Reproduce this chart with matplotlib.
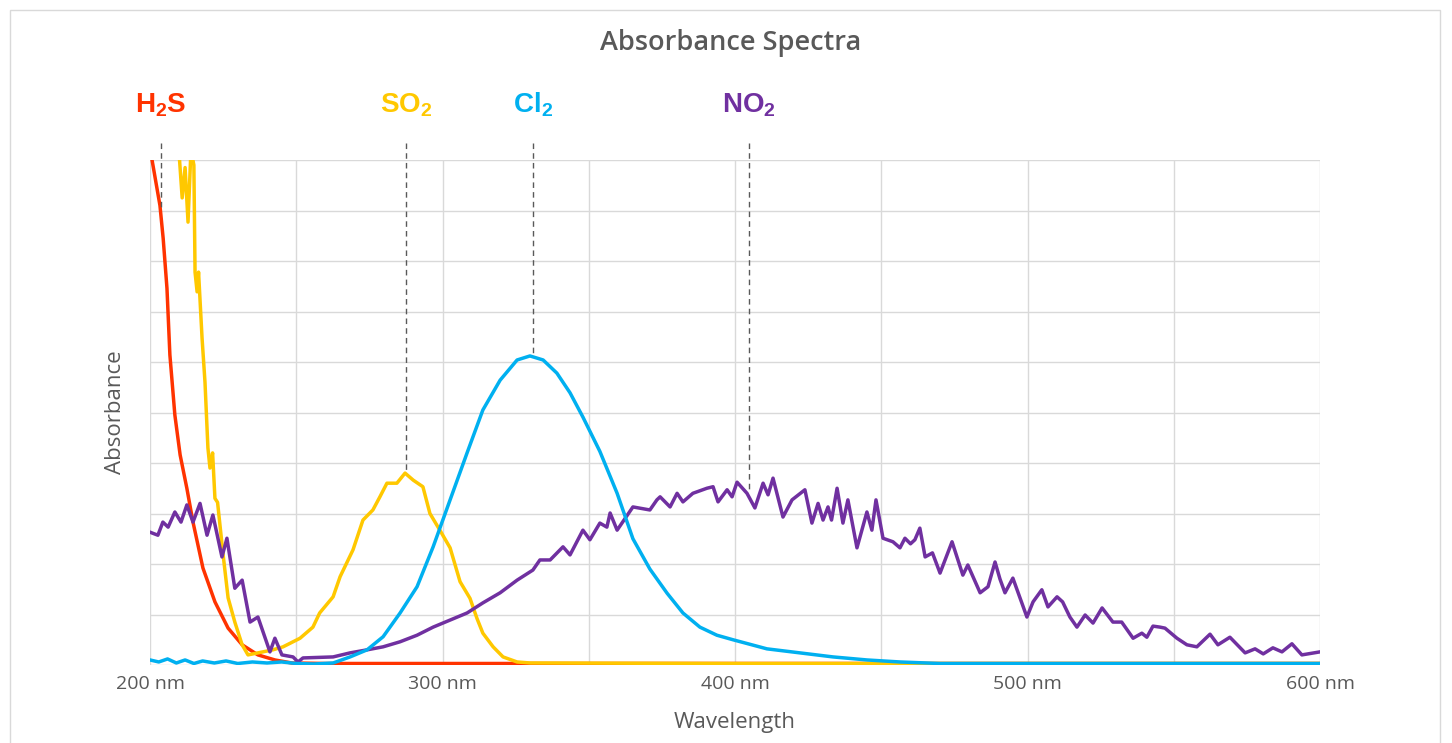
import matplotlib
matplotlib.use("Agg")
import matplotlib.pyplot as plt
from matplotlib.patches import Rectangle

# wavelength (nm) / absorbance, 0..1 scale
h2s_nm = [200, 200.7, 203.4, 204.5, 205.8, 206.8, 208.5, 210.3, 212.6, 214.7, 218.1,
          222.2, 226.7, 231.5, 236.9, 242.7, 248.5, 260, 400, 600]
h2s_abs = [1.08, 1.0, 0.91, 0.845, 0.746, 0.614, 0.495, 0.416, 0.35, 0.283, 0.192,
           0.125, 0.073, 0.04, 0.02, 0.01, 0.004, 0.003, 0.003, 0.003]

so2_nm = [209.5, 211, 212, 213, 214, 215, 215.4, 216.1, 216.6, 217.8, 218.8, 219.8, 220.5,
          221.4, 222.2, 223.1, 225, 226.7, 229, 231.5, 233.5, 242, 245.5, 251.3, 255.7,
          258, 262.6, 265, 269.4, 272.8, 276.2, 278.6, 281, 284.4, 287.2, 290, 293.3,
          295.7, 299.1, 302.6, 306, 309.4, 311.8, 313.8, 317.3, 320.7, 325.5, 330, 400, 600]
so2_abs = [1.05, 0.925, 0.985, 0.877, 1.02, 0.99, 0.778, 0.739, 0.778, 0.647, 0.56, 0.43, 0.39,
           0.42, 0.33, 0.322, 0.218, 0.133, 0.085, 0.04, 0.02, 0.03, 0.036, 0.053, 0.075,
           0.103, 0.135, 0.175, 0.228, 0.287, 0.307, 0.333, 0.36, 0.36, 0.38, 0.366, 0.353,
           0.3, 0.267, 0.232, 0.165, 0.132, 0.092, 0.063, 0.036, 0.016, 0.006, 0.004, 0.003, 0.003]

cl2_nm = [200, 203, 206, 209, 212, 215, 218, 222, 226, 230, 235, 240, 245, 250, 256,
          262.6, 268.4, 274.2, 279.7, 285.5, 291.3, 296.8, 302.6, 308.4, 313.8, 319.7,
          325.5, 329.9, 334.4, 339.1, 343.6, 348, 353.8, 359.7, 365.1, 370.9, 376.8,
          382.2, 388, 393.8, 399.3, 410.9, 422.2, 433.5, 445.1, 456.4, 470, 600]
cl2_abs = [0.01, 0.006, 0.012, 0.004, 0.01, 0.003, 0.008, 0.004, 0.008, 0.003, 0.006, 0.004,
           0.006, 0.003, 0.002, 0.004, 0.016, 0.03, 0.056, 0.103, 0.155, 0.234, 0.327, 0.42,
           0.505, 0.564, 0.604, 0.612, 0.604, 0.578, 0.539, 0.491, 0.423, 0.34, 0.25, 0.19,
           0.142, 0.103, 0.075, 0.059, 0.05, 0.032, 0.024, 0.016, 0.01, 0.006, 0.003, 0.003]

no2_nm = [200, 202.7, 204.4, 206.2, 208.5, 210.6, 212.6, 214.7, 217.1, 219.5, 221.5, 224.6,
          226.3, 229, 231.5, 234.2, 236.9, 241, 242.7, 245.1, 248.9, 250.6, 252.3, 262.6,
          268.4, 274.2, 279.7, 285.5, 291.3, 296.8, 302.6, 308.4, 313.8, 319.7, 325.5,
          330.9, 333.3, 336.8, 341.2, 343.6, 348, 350.4, 353.8, 356.2, 357.3, 359.7, 365.1,
          370.9, 373.3, 374.4, 377.8, 380.2, 382.2, 385.6, 390.4, 392.5, 394.2, 397.3, 399,
          400.7, 404.1, 406.8, 409.6, 411.3, 413, 416.4, 419.5, 423.9, 426.3, 428.4, 430.1,
          431.8, 433, 434.9, 436.9, 438.6, 441.7, 445.1, 446.8, 448.2, 450.6, 454, 456.4,
          458.1, 460, 461.5, 463.2, 465, 467.5, 470.1, 474.2, 477.9, 479.6, 483.8, 486.5,
          488.9, 490.6, 492.3, 495, 499.8, 501.9, 504.9, 507, 510.1, 512, 514.5, 516.9,
          519.7, 522.4, 525.5, 529.2, 532.2, 536.1, 539.1, 540.8, 542.9, 545.3, 547,
          551.1, 554.5, 557.9, 562.4, 565.1, 569.2, 574.4, 577.8, 580.6, 583.9, 587,
          590.4, 593.8, 600]
no2_abs = [0.263, 0.257, 0.283, 0.273, 0.303, 0.283, 0.317, 0.283, 0.32, 0.257, 0.297, 0.214,
           0.251, 0.152, 0.168, 0.085, 0.095, 0.026, 0.053, 0.02, 0.016, 0.006, 0.014, 0.016,
           0.024, 0.03, 0.036, 0.046, 0.059, 0.075, 0.089, 0.103, 0.123, 0.143, 0.168,
           0.188, 0.208, 0.208, 0.234, 0.218, 0.267, 0.248, 0.281, 0.273, 0.301, 0.267, 0.313,
           0.307, 0.327, 0.333, 0.313, 0.34, 0.323, 0.34, 0.35, 0.353, 0.323, 0.347, 0.333,
           0.362, 0.34, 0.311, 0.36, 0.337, 0.37, 0.293, 0.327, 0.347, 0.281, 0.32, 0.287,
           0.313, 0.287, 0.35, 0.281, 0.327, 0.232, 0.303, 0.267, 0.327, 0.251, 0.244, 0.232,
           0.251, 0.24, 0.248, 0.271, 0.214, 0.222, 0.182, 0.244, 0.178, 0.198, 0.143, 0.155,
           0.204, 0.17, 0.143, 0.172, 0.095, 0.125, 0.149, 0.115, 0.135, 0.125, 0.095, 0.075,
           0.099, 0.083, 0.113, 0.085, 0.085, 0.053, 0.063, 0.055, 0.077, 0.075, 0.073,
           0.053, 0.04, 0.036, 0.061, 0.04, 0.055, 0.024, 0.032, 0.022, 0.034, 0.026,
           0.042, 0.02, 0.026]

labels = ["H$_\\mathbf{2}$S", "SO$_\\mathbf{2}$", "Cl$_\\mathbf{2}$", "NO$_\\mathbf{2}$"]
peak_nm = [203.8, 287.5, 331, 404.8]
peak_abs = [0.907, 0.386, 0.614, 0.347]
colors = ["#FF3300", "#FFC800", "#00B0F0", "#7030A0"]

plt.rcParams['mathtext.fontset'] = 'custom'
plt.rcParams['mathtext.bf'] = 'Liberation Sans:bold'
plt.rcParams['mathtext.rm'] = 'Liberation Sans:bold'

fig = plt.figure(figsize=(14.52, 7.43), dpi=100)
ax = fig.add_axes([150 / 1452, 78 / 743, 1170 / 1452, 505 / 743])
fig.patches.append(Rectangle((10 / 1452, -0.05), 1430 / 1452, 1.0 - 10 / 743 + 0.05,
                             transform=fig.transFigure, fill=False, edgecolor="#D9D9D9", lw=1))

ax.set_xlim(200, 600)
ax.set_ylim(0, 1)
ax.set_xticks([200, 300, 400, 500, 600])
ax.set_xticks([250, 350, 450, 550], minor=True)
ax.set_xticklabels([f"{v} nm" for v in [200, 300, 400, 500, 600]])
ax.set_yticks([i / 10 for i in range(11)])
ax.set_yticklabels([])
ax.grid(True, which="both", color="#D9D9D9", lw=1)
ax.set_axisbelow(True)
ax.tick_params(which="both", length=0, pad=7, labelsize=14, labelcolor="#595959")
for lab in ax.get_xticklabels():
    lab.set_family("Open Sans")
for s in ax.spines.values():
    s.set_visible(False)

ax.plot(h2s_nm, h2s_abs, color=colors[0], lw=2.5)
ax.plot(so2_nm, so2_abs, color=colors[1], lw=2.5)
ax.plot(no2_nm, no2_abs, color=colors[3], lw=2.5)
ax.plot(cl2_nm, cl2_abs, color=colors[2], lw=2.5)

for name, x, y, c in zip(labels, peak_nm, peak_abs, colors):
    ax.plot([x, x], [1.034, y], color="#595959", lw=1, ls=(0, (4, 3)), clip_on=False, zorder=5)
    ax.text(x, 1.095, name, color=c, fontsize=20, ha="center", va="baseline",
            fontweight="bold", family="Liberation Sans")

fig.text(731 / 1452, 1 - 43 / 743, "Absorbance Spectra", fontsize=19.5, color="#595959",
         family="Open Sans", fontweight="semibold", ha="center", va="center")
ax.set_xlabel("Wavelength", fontsize=16, color="#595959", family="Open Sans", labelpad=14)
ax.set_ylabel("Absorbance", fontsize=16, color="#595959", family="Open Sans", labelpad=10)

fig.savefig("out.png", dpi=100)
